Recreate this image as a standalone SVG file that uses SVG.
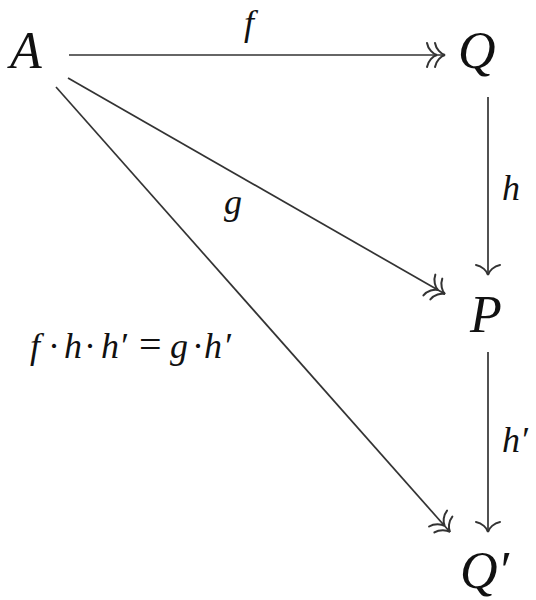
<svg xmlns="http://www.w3.org/2000/svg" width="536" height="600" viewBox="0 0 536 600">
<style>
.node{font-size:52px;fill:#111}
.lbl{font-size:36px;fill:#111}
.edge{stroke:#333;stroke-width:1.7;fill:none}
.head{stroke:#333;stroke-width:2;fill:none;stroke-linecap:round}
</style>
<defs>
<marker id="to" markerUnits="userSpaceOnUse" orient="auto" refX="0" refY="0" markerWidth="40" markerHeight="40" viewBox="-20 -20 40 40" overflow="visible">
<path class="head" d="M -10,-12 C -9,-6 -4,-1 0,0 C -4,1 -9,6 -10,12"/>
</marker>
<marker id="twohead" markerUnits="userSpaceOnUse" orient="auto" refX="0" refY="0" markerWidth="40" markerHeight="40" viewBox="-20 -20 40 40" overflow="visible">
<path class="head" d="M -10,-12 C -9,-6 -4,-1 0,0 C -4,1 -9,6 -10,12 M -18,-12 C -17,-6 -12,-1 -8,0 C -12,1 -17,6 -18,12"/>
</marker>
</defs>
<g id="connectors" font-family="Liberation Serif, DejaVu Serif, serif" font-style="italic">
<line class="edge" x1="69" y1="55" x2="445" y2="55" marker-end="url(#twohead)"/>
<line class="edge" x1="68" y1="78" x2="445" y2="294" marker-end="url(#twohead)"/>
<line class="edge" x1="56" y1="87" x2="450" y2="532" marker-end="url(#twohead)"/>
<line class="edge" x1="488" y1="97" x2="488" y2="275" marker-end="url(#to)"/>
<line class="edge" x1="488" y1="352" x2="488" y2="532" marker-end="url(#to)"/>
<text class="lbl" x="244" y="35">f</text>
<text class="lbl" x="224" y="214">g</text>
<text class="lbl" x="502" y="200">h</text>
<text class="lbl" x="502" y="452">h′</text>
<text class="lbl" x="30" y="358">f<tspan x="48" font-style="normal">·</tspan><tspan x="64">h</tspan><tspan x="84" font-style="normal">·</tspan><tspan x="101">h</tspan><tspan x="119">′</tspan><tspan x="139" font-style="normal" font-size="40">=</tspan><tspan x="170">g</tspan><tspan x="192" font-style="normal">·</tspan><tspan x="204">h</tspan><tspan x="223">′</tspan></text>
</g>
<g id="A" font-family="Liberation Serif, DejaVu Serif, serif" font-style="italic"><text class="node" x="10" y="68">A</text></g>
<g id="Q" font-family="Liberation Serif, DejaVu Serif, serif" font-style="italic"><text class="node" x="458" y="68">Q</text></g>
<g id="P" font-family="Liberation Serif, DejaVu Serif, serif" font-style="italic"><text class="node" x="470" y="332">P</text></g>
<g id="Qp" font-family="Liberation Serif, DejaVu Serif, serif" font-style="italic"><text class="node" x="460" y="588">Q′</text></g>
</svg>
